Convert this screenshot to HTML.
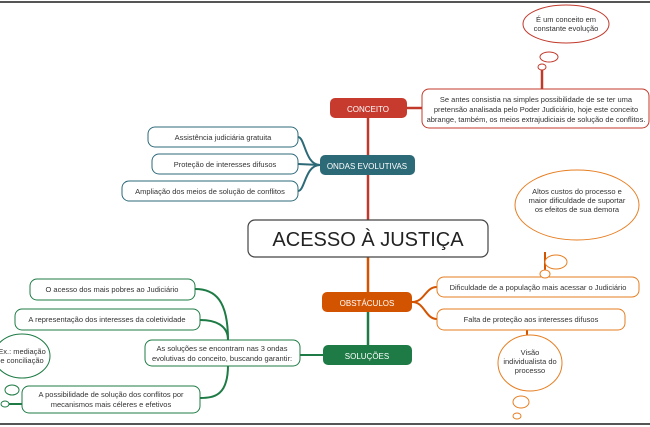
<!DOCTYPE html>
<html><head><meta charset="utf-8"><style>
html,body{margin:0;padding:0;background:#fff;}
svg{display:block;font-family:"Liberation Sans",sans-serif;}
</style></head><body>
<svg width="650" height="427" viewBox="0 0 650 427" xmlns="http://www.w3.org/2000/svg">
<rect width="650" height="427" fill="#fff"/>
<line x1="0" y1="2" x2="650" y2="2" stroke="#555" stroke-width="2"/>
<line x1="0" y1="424" x2="650" y2="424" stroke="#555" stroke-width="2"/>

<!-- main trunk -->
<line x1="368" y1="118" x2="368" y2="222" stroke="#c0392b" stroke-width="2.5"/>
<line x1="368" y1="257" x2="368" y2="292" stroke="#d35400" stroke-width="2.5"/>
<line x1="368" y1="312" x2="368" y2="345" stroke="#1e7b45" stroke-width="2.5"/>

<!-- conceito -->
<line x1="407" y1="108" x2="422" y2="108" stroke="#c0392b" stroke-width="2.5"/>
<line x1="542" y1="70" x2="542" y2="89" stroke="#c0392b" stroke-width="2.5"/>
<rect x="330" y="98" width="77" height="20" rx="5" fill="#c73a2e"/>
<text x="368" y="112" font-size="8" fill="#fff" text-anchor="middle">CONCEITO</text>
<rect x="422" y="89" width="227" height="39" rx="7" fill="#fff" stroke="#c0392b" stroke-width="1"/>
<g font-size="7.5" fill="#333" text-anchor="middle">
<text x="536" y="102">Se antes consistia na simples possibilidade de se ter uma</text>
<text x="536" y="112">pretensão analisada pelo Poder Judiciário, hoje este conceito</text>
<text x="536" y="122">abrange, também, os meios extrajudiciais de solução de conflitos.</text>
</g>
<g fill="#fff" stroke="#c0392b" stroke-width="1">
<ellipse cx="566" cy="24" rx="43" ry="19"/>
<ellipse cx="549" cy="57" rx="9" ry="5"/>
<ellipse cx="542" cy="67" rx="4" ry="3"/>
</g>
<g font-size="7.5" fill="#333" text-anchor="middle">
<text x="566" y="22">É um conceito em</text>
<text x="566" y="31">constante evolução</text>
</g>

<!-- ondas -->
<g stroke="#2d6a78" stroke-width="2" fill="none">
<path d="M320 165 C305 165,305 137,298 137"/>
<path d="M320 165 L298 164"/>
<path d="M320 165 C305 165,305 191,298 191"/>
</g>
<rect x="320" y="155" width="95" height="20" rx="5" fill="#2d6a78"/>
<text x="367" y="169" font-size="8" fill="#fff" text-anchor="middle">ONDAS EVOLUTIVAS</text>
<g fill="#fff" stroke="#2d6a78" stroke-width="1">
<rect x="148" y="127" width="150" height="20" rx="7"/>
<rect x="152" y="154" width="146" height="20" rx="7"/>
<rect x="122" y="181" width="176" height="20" rx="7"/>
</g>
<g font-size="7.5" fill="#333" text-anchor="middle">
<text x="223" y="140">Assistência judiciária gratuita</text>
<text x="225" y="167">Proteção de interesses difusos</text>
<text x="210" y="194">Ampliação dos meios de solução de conflitos</text>
</g>

<!-- main -->
<rect x="248" y="220" width="240" height="37" rx="7" fill="#fff" stroke="#444" stroke-width="1.2"/>
<text x="368" y="246" font-size="20" fill="#222" text-anchor="middle">ACESSO À JUSTIÇA</text>

<!-- obstaculos -->
<g stroke="#d35400" stroke-width="2" fill="none">
<path d="M412 302 C425 302,425 287,437 287"/>
<path d="M412 302 C425 302,425 319,437 319"/>
<line x1="545" y1="252" x2="545" y2="277"/>
<line x1="527" y1="330" x2="527" y2="338"/>
</g>
<rect x="322" y="292" width="90" height="20" rx="5" fill="#d35400"/>
<text x="367" y="306" font-size="8" fill="#fff" text-anchor="middle">OBSTÁCULOS</text>
<g fill="#fff" stroke="#e67e22" stroke-width="1">
<rect x="437" y="277" width="202" height="20" rx="7"/>
<rect x="437" y="309" width="188" height="21" rx="7"/>
<ellipse cx="577" cy="205" rx="62" ry="35"/>
<ellipse cx="556" cy="262" rx="11" ry="7"/>
<ellipse cx="545" cy="274" rx="5" ry="4"/>
<ellipse cx="530" cy="363" rx="32" ry="28"/>
<ellipse cx="521" cy="402" rx="8" ry="6"/>
<ellipse cx="517" cy="416" rx="4" ry="3"/>
</g>
<g font-size="7.5" fill="#333" text-anchor="middle">
<text x="538" y="290">Dificuldade de a população mais acessar o Judiciário</text>
<text x="531" y="322">Falta de proteção aos interesses difusos</text>
<text x="577" y="194">Altos custos do processo e</text>
<text x="577" y="203">maior dificuldade de suportar</text>
<text x="577" y="212">os efeitos de sua demora</text>
<text x="530" y="355">Visão</text>
<text x="530" y="364">individualista do</text>
<text x="530" y="373">processo</text>
</g>

<!-- solucoes -->
<g stroke="#1e7b45" stroke-width="2" fill="none">
<line x1="300" y1="355" x2="323" y2="355"/>
<path d="M228 340 C228 300,215 289,195 289"/>
<path d="M228 340 C228 325,215 320,200 320"/>
<path d="M228 365 C228 395,215 398,200 398"/>
<line x1="5" y1="404" x2="22" y2="404"/>
</g>
<rect x="323" y="345" width="89" height="20" rx="5" fill="#1e7b45"/>
<text x="367" y="359" font-size="8" fill="#fff" text-anchor="middle">SOLUÇÕES</text>
<g fill="#fff" stroke="#1e7b45" stroke-width="1">
<rect x="145" y="340" width="155" height="26" rx="7"/>
<rect x="30" y="279" width="165" height="21" rx="7"/>
<rect x="15" y="309" width="185" height="21" rx="7"/>
<rect x="22" y="386" width="178" height="27" rx="7"/>
<ellipse cx="22" cy="356" rx="28" ry="22"/>
<ellipse cx="12" cy="390" rx="7" ry="5"/>
<ellipse cx="5" cy="404" rx="4" ry="3"/>
</g>
<g font-size="7.5" fill="#333" text-anchor="middle">
<text x="222" y="351">As soluções se encontram nas 3 ondas</text>
<text x="222" y="361">evolutivas do conceito, buscando garantir:</text>
<text x="112" y="292">O acesso dos mais pobres ao Judiciário</text>
<text x="107" y="322">A representação dos interesses da coletividade</text>
<text x="111" y="397">A possibilidade de solução dos conflitos por</text>
<text x="111" y="407">mecanismos mais céleres e efetivos</text>
<text x="22" y="354">Ex.: mediação</text>
<text x="22" y="363">e conciliação</text>
</g>
</svg>
</body></html>
